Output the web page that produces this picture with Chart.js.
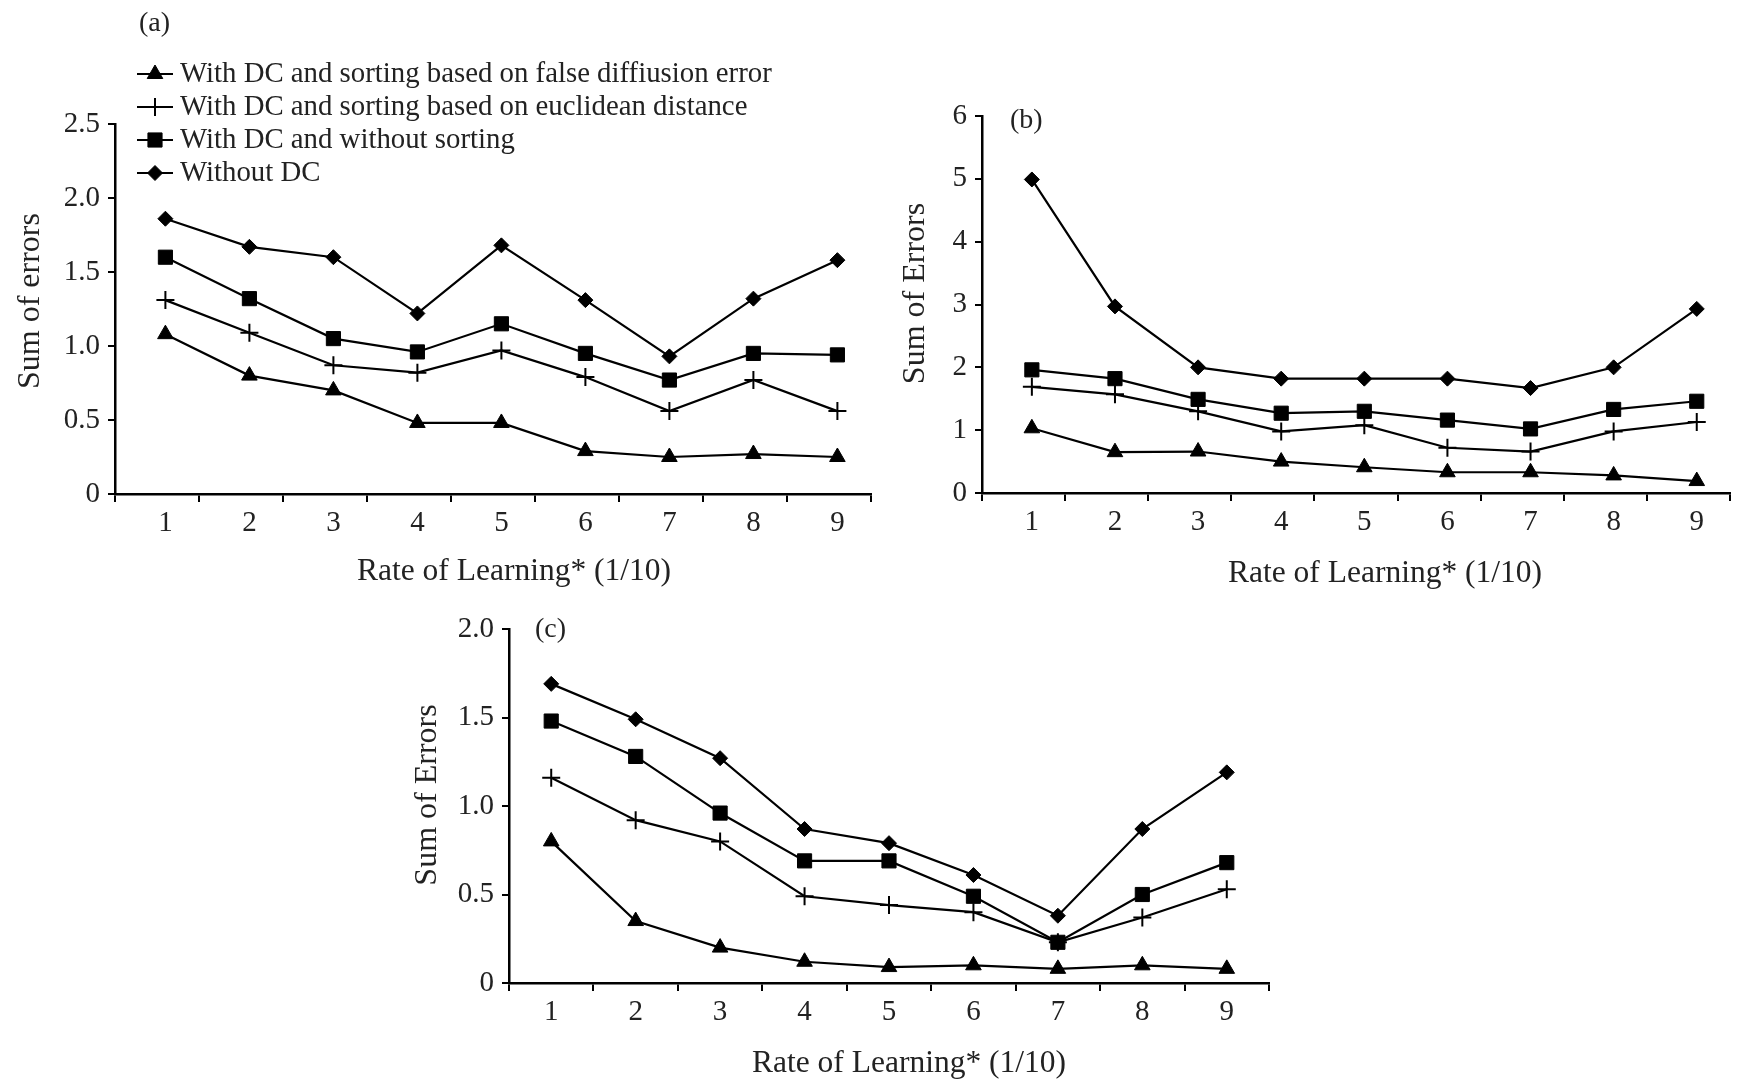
<!DOCTYPE html>
<html>
<head>
<meta charset="utf-8">
<script src="https://cdn.jsdelivr.net/npm/chart.js@4.4.0/dist/chart.umd.min.js"></script>
<style>
  html, body { margin: 0; padding: 0; background: #fff; }
  body { width: 1741px; height: 1083px; position: relative; overflow: hidden; }
  canvas { position: absolute; }
</style>
</head>
<body>
<canvas id="chartA" width="900" height="600" style="left:0;top:0"></canvas>
<canvas id="chartB" width="861" height="600" style="left:880px;top:0"></canvas>
<canvas id="chartC" width="880" height="523" style="left:400px;top:560px"></canvas>
<script>
// Rate of learning (x 1/10)
const rates = ['1', '2', '3', '4', '5', '6', '7', '8', '9'];

const seriesNames = [
  'With DC and sorting based on false diffiusion error',
  'With DC and sorting based on euclidean distance',
  'With DC and without sorting',
  'Without DC'
];

// (a)
const aFalseDiff = [1.08, 0.80, 0.70, 0.48, 0.48, 0.29, 0.25, 0.27, 0.25];
const aEuclid    = [1.31, 1.09, 0.87, 0.82, 0.97, 0.79, 0.56, 0.77, 0.56];
const aNoSort    = [1.60, 1.32, 1.05, 0.96, 1.15, 0.95, 0.77, 0.95, 0.94];
const aNoDC      = [1.86, 1.67, 1.60, 1.22, 1.68, 1.31, 0.93, 1.32, 1.58];

// (b)
const bFalseDiff = [1.03, 0.65, 0.66, 0.50, 0.41, 0.33, 0.33, 0.28, 0.19];
const bEuclid    = [1.69, 1.57, 1.30, 0.98, 1.08, 0.72, 0.66, 0.98, 1.13];
const bNoSort    = [1.96, 1.82, 1.49, 1.27, 1.30, 1.16, 1.02, 1.33, 1.46];
const bNoDC      = [4.99, 2.97, 2.00, 1.82, 1.82, 1.82, 1.67, 2.00, 2.93];

// (c)
const cFalseDiff = [0.80, 0.35, 0.20, 0.12, 0.09, 0.10, 0.08, 0.10, 0.08];
const cEuclid    = [1.16, 0.92, 0.80, 0.49, 0.44, 0.40, 0.23, 0.37, 0.53];
const cNoSort    = [1.48, 1.28, 0.96, 0.69, 0.69, 0.49, 0.23, 0.50, 0.68];
const cNoDC      = [1.69, 1.49, 1.27, 0.87, 0.79, 0.61, 0.38, 0.87, 1.19];

// tick labels
const yTicksA = ['0', '0.5', '1.0', '1.5', '2.0', '2.5'];
const yTicksB = ['0', '1', '2', '3', '4', '5', '6'];
const yTicksC = ['0', '0.5', '1.0', '1.5', '2.0'];

const xTitle = 'Rate of Learning* (1/10)';

const FONT = "'Liberation Serif', 'Times New Roman', serif";
const INK = '#000';
const TEXT = '#222';

// marker style per series, same order as seriesNames
const markers = [
  { pointStyle: 'triangle', pointRadius: 9 },
  { pointStyle: 'cross', pointRadius: 9 },
  { pointStyle: 'rect', pointRadius: 10 },
  { pointStyle: 'rectRot', pointRadius: 7.5 }
];

function makeDatasets(arrays) {
  return arrays.map((vals, i) => ({
    label: seriesNames[i],
    data: vals.map((v, k) => ({ x: Number(rates[k]), y: v })),
    borderColor: INK,
    borderWidth: 2.2,
    pointBackgroundColor: INK,
    pointBorderColor: INK,
    pointBorderWidth: i === 1 ? 2 : 1,
    pointStyle: markers[i].pointStyle,
    pointRadius: markers[i].pointRadius,
    tension: 0,
    fill: false
  }));
}

// legend drawn inside chart (a): short line with marker, then text
const lineLegend = {
  id: 'lineLegend',
  afterDraw(chart, args, opts) {
    if (!opts.show) return;
    const ctx = chart.ctx;
    ctx.save();
    chart.data.datasets.forEach((ds, i) => {
      const y = opts.y + i * opts.spacing;
      ctx.strokeStyle = ds.borderColor;
      ctx.lineWidth = ds.borderWidth;
      ctx.beginPath();
      ctx.moveTo(opts.x, y);
      ctx.lineTo(opts.x + opts.lineLen, y);
      ctx.stroke();
      ctx.fillStyle = ds.pointBackgroundColor;
      ctx.strokeStyle = ds.pointBorderColor;
      ctx.lineWidth = ds.pointBorderWidth;
      Chart.helpers.drawPoint(ctx, {
        pointStyle: ds.pointStyle,
        radius: ds.pointRadius,
        borderWidth: ds.pointBorderWidth,
        rotation: 0
      }, opts.x + opts.lineLen / 2, y);
      ctx.fillStyle = TEXT;
      ctx.font = opts.fontSize + 'px ' + FONT;
      ctx.textAlign = 'left';
      ctx.textBaseline = 'middle';
      ctx.fillText(ds.label, opts.x + opts.lineLen + opts.gap, y);
    });
    ctx.restore();
  }
};

// "(a)", "(b)", "(c)" and the two axis titles (the originals sit a bit off centre)
const panelText = {
  id: 'panelText',
  afterDraw(chart, args, o) {
    const { ctx, chartArea: a } = chart;
    ctx.save();
    ctx.fillStyle = TEXT;
    ctx.textBaseline = 'middle';

    ctx.font = '28px ' + FONT;
    ctx.textAlign = 'left';
    ctx.fillText(o.panel, o.panelX, o.panelY);

    ctx.textAlign = 'center';
    ctx.font = '31.5px ' + FONT;
    ctx.fillText(xTitle, (a.left + a.right) / 2 + o.xDx, o.xY);

    ctx.translate(o.yX, (a.top + a.bottom) / 2 + o.yDy);
    ctx.rotate(-Math.PI / 2);
    ctx.font = '32px ' + FONT;
    ctx.fillText(o.yTitle, 0, 0);
    ctx.restore();
  }
};

function makeChart(id, cfg) {
  const ctx = document.getElementById(id).getContext('2d');
  const xMin = 0.5 - cfg.xShift;
  return new Chart(ctx, {
    type: 'line',
    data: { datasets: makeDatasets(cfg.series) },
    plugins: [lineLegend, panelText],
    options: {
      responsive: false,
      animation: false,
      events: [],
      layout: { padding: cfg.padding },
      plugins: {
        legend: { display: false },
        tooltip: { enabled: false },
        lineLegend: cfg.legend || { show: false },
        panelText: cfg.text
      },
      scales: {
        x: {
          type: 'linear',
          min: xMin,
          max: xMin + rates.length,
          afterFit: s => { s.height = cfg.xHeight; },
          // labels at each rate, tick marks on the bin edges
          afterBuildTicks: s => {
            const t = [];
            for (let j = 0; j <= rates.length; j++) {
              t.push({ value: xMin + j, edge: true });
              if (j < rates.length) t.push({ value: Number(rates[j]) });
            }
            s.ticks = t;
          },
          border: { display: true, color: INK, width: 2.5 },
          grid: {
            drawOnChartArea: false,
            drawTicks: true,
            tickLength: 8,
            color: INK,
            lineWidth: c => (c.tick && c.tick.edge) ? 2 : 0
          },
          ticks: {
            autoSkip: false,
            maxRotation: 0,
            color: TEXT,
            font: { family: FONT, size: 29 },
            padding: 4,
            callback: (v, i, ticks) => ticks[i].edge ? '' : rates[rates.indexOf(String(v))]
          }
        },
        y: {
          min: 0,
          max: cfg.yMax,
          afterFit: s => { s.width = cfg.yWidth; },
          border: { display: true, color: INK, width: 2.5 },
          grid: { drawOnChartArea: false, drawTicks: true, tickLength: 7, color: INK, lineWidth: 2 },
          ticks: {
            stepSize: cfg.yStep,
            color: TEXT,
            font: { family: FONT, size: 29 },
            padding: 8,
            callback: (v, i) => cfg.yTicks[i]
          }
        }
      }
    }
  });
}

makeChart('chartA', {
  series: [aFalseDiff, aEuclid, aNoSort, aNoDC],
  padding: { top: 124, right: 29, left: 0, bottom: 0 },
  xHeight: 106, yWidth: 115, xShift: 0.1,
  yMax: 2.5, yStep: 0.5, yTicks: yTicksA,
  legend: { show: true, x: 137, y: 74, spacing: 33, lineLen: 36, gap: 7, fontSize: 28.8 },
  text: { panel: '(a)', panelX: 139, panelY: 24, xDx: 21, xY: 572, yTitle: 'Sum of errors', yX: 31, yDy: -8 }
});

makeChart('chartB', {
  series: [bFalseDiff, bEuclid, bNoSort, bNoDC],
  padding: { top: 116, right: 3, left: 0, bottom: 0 },
  xHeight: 107, yWidth: 102, xShift: 0.1,
  yMax: 6, yStep: 1, yTicks: yTicksB,
  text: { panel: '(b)', panelX: 130, panelY: 121, xDx: 29, xY: 574, yTitle: 'Sum of Errors', yX: 36, yDy: -11 }
});

makeChart('chartC', {
  series: [cFalseDiff, cEuclid, cNoSort, cNoDC],
  padding: { top: 69, right: 11, left: 0, bottom: 0 },
  xHeight: 100, yWidth: 109, xShift: 0,
  yMax: 2.0, yStep: 0.5, yTicks: yTicksC,
  text: { panel: '(c)', panelX: 135, panelY: 70, xDx: 20, xY: 504, yTitle: 'Sum of Errors', yX: 28, yDy: -11 }
});
</script>
</body>
</html>
